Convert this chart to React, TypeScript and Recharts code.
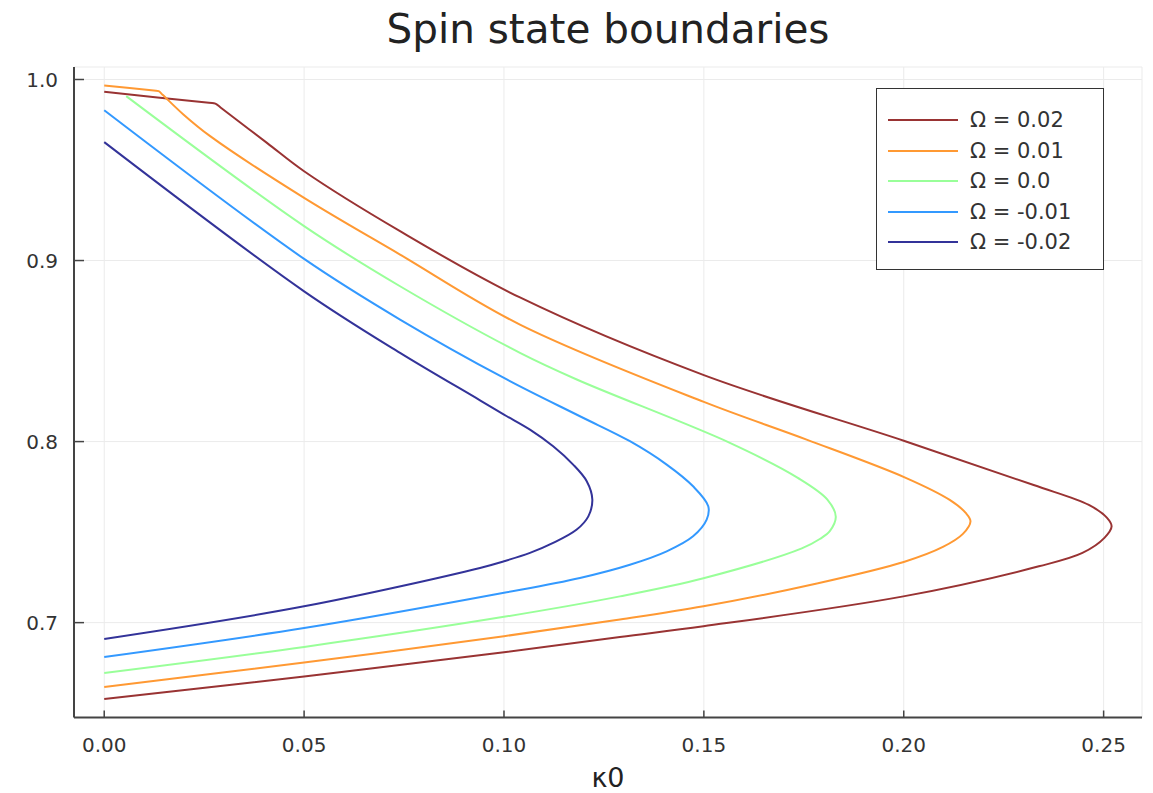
import { CartesianGrid, Legend, Line, LineChart, XAxis, YAxis } from "recharts";

// each curve runs from its top end, round the nose, back to κ0 = 0 at the bottom
const curveP02: [number, number][] = [
  [0, 0.9932], [0.0262, 0.9871], [0.0278, 0.9867], [0.0291, 0.9845], [0.0407, 0.965],
  [0.05, 0.9493], [0.074, 0.9162], [0.104, 0.8796], [0.15, 0.8367], [0.2, 0.8005],
  [0.2325, 0.776], [0.2463, 0.765], [0.2508, 0.758], [0.252, 0.7532], [0.2502, 0.7468],
  [0.2447, 0.7385], [0.2338, 0.7311], [0.1999, 0.7145], [0.1499, 0.698], [0.129, 0.6921],
  [0.1, 0.6836], [0.05, 0.6703], [0, 0.6578],
];
const curveP01: [number, number][] = [
  [0, 0.9967], [0.0124, 0.9939], [0.0136, 0.9936], [0.0146, 0.9916], [0.0198, 0.9807],
  [0.0265, 0.9687], [0.05, 0.9346], [0.074, 0.9033], [0.104, 0.8646], [0.15, 0.8219],
  [0.1757, 0.8011], [0.2005, 0.78], [0.2115, 0.7678], [0.2155, 0.7606], [0.2167, 0.756],
  [0.2148, 0.749], [0.2098, 0.7418], [0.2, 0.7335], [0.178, 0.7215], [0.1499, 0.709],
  [0.129, 0.7017], [0.1, 0.6925], [0.05, 0.678], [0, 0.6645],
];
const curve00: [number, number][] = [
  [0.0055, 0.9908], [0.05, 0.919], [0.074, 0.8858], [0.104, 0.849], [0.1182, 0.8343],
  [0.1565, 0.7993], [0.1735, 0.78], [0.1809, 0.768], [0.183, 0.7585], [0.1815, 0.7505],
  [0.179, 0.7462], [0.1745, 0.741], [0.1499, 0.7245], [0.129, 0.7145], [0.1, 0.7032],
  [0.05, 0.6866], [0, 0.6722],
];
const curveM01: [number, number][] = [
  [0, 0.983], [0.05, 0.9009], [0.074, 0.8674], [0.1007, 0.8343], [0.119, 0.814],
  [0.1315, 0.8002], [0.1407, 0.7873], [0.1473, 0.7753], [0.1511, 0.7643], [0.1507, 0.7569],
  [0.1473, 0.7477], [0.1407, 0.7394], [0.1315, 0.732], [0.119, 0.7247], [0.1, 0.7165],
  [0.05, 0.697], [0, 0.681],
];
const curveM02: [number, number][] = [
  [0, 0.9654], [0.05, 0.883], [0.074, 0.849], [0.094, 0.8228], [0.1, 0.8149],
  [0.1065, 0.8066], [0.1123, 0.7974], [0.1173, 0.7873], [0.1207, 0.7781], [0.1221, 0.768],
  [0.1211, 0.7587], [0.1182, 0.7514], [0.1123, 0.744], [0.1065, 0.7385], [0.1, 0.7339],
  [0.094, 0.7302], [0.05, 0.709], [0, 0.691],
];

const omegaLabels = ["Ω = 0.02", "Ω = 0.01", "Ω = 0.0", "Ω = -0.01", "Ω = -0.02"];
const curves = [curveP02, curveP01, curve00, curveM01, curveM02];
const colors = ["#993333", "#ff9933", "#99ff99", "#3399ff", "#333399"];

const xTicks = [0, 0.05, 0.1, 0.15, 0.2, 0.25];
const yTicks = [0.7, 0.8, 0.9, 1.0];

const font = "'DejaVu Sans', sans-serif";

// centripetal catmull-rom, so the curves pass through the read points but bend smoothly
function catmullRom(ctx: any) {
  const alpha = 0.5;
  let x0 = NaN, y0 = NaN, x1 = NaN, y1 = NaN, x2 = NaN, y2 = NaN;
  let l01a = 0, l12a = 0, l23a = 0, l01b = 0, l12b = 0, l23b = 0, n = 0;
  let inLine = NaN;

  const bez = (x: number, y: number) => {
    let cx1 = x1, cy1 = y1, cx2 = x2, cy2 = y2;
    if (l01a > 1e-12) {
      const a = 2 * l01b + 3 * l01a * l12a + l12b;
      const m = 3 * l01a * (l01a + l12a);
      cx1 = (x1 * a - x0 * l12b + x2 * l01b) / m;
      cy1 = (y1 * a - y0 * l12b + y2 * l01b) / m;
    }
    if (l23a > 1e-12) {
      const b = 2 * l23b + 3 * l23a * l12a + l12b;
      const m = 3 * l23a * (l23a + l12a);
      cx2 = (x2 * b + x1 * l23b - x * l12b) / m;
      cy2 = (y2 * b + y1 * l23b - y * l12b) / m;
    }
    ctx.bezierCurveTo(cx1, cy1, cx2, cy2, x2, y2);
  };

  const curve = {
    areaStart() { inLine = 0; },
    areaEnd() { inLine = NaN; },
    lineStart() {
      x0 = x1 = x2 = y0 = y1 = y2 = NaN;
      l01a = l12a = l23a = l01b = l12b = l23b = n = 0;
    },
    lineEnd() {
      if (n === 2) ctx.lineTo(x2, y2);
      else if (n === 3) curve.point(x2, y2);
      if (inLine || (inLine !== 0 && n === 1)) ctx.closePath();
      inLine = 1 - inLine;
    },
    point(x: number, y: number) {
      x = +x; y = +y;
      if (n) {
        const dx = x2 - x, dy = y2 - y;
        l23b = Math.pow(dx * dx + dy * dy, alpha);
        l23a = Math.sqrt(l23b);
      }
      if (n === 0) {
        n = 1;
        if (inLine) ctx.lineTo(x, y); else ctx.moveTo(x, y);
      } else if (n === 1) {
        n = 2;
      } else {
        n = 3;
        bez(x, y);
      }
      l01a = l12a; l12a = l23a;
      l01b = l12b; l12b = l23b;
      x0 = x1; x1 = x2; x2 = x;
      y0 = y1; y1 = y2; y2 = y;
    },
  };
  return curve;
}

function LegendBox() {
  return (
    <div
      style={{
        width: 228,
        height: 182,
        boxSizing: "border-box",
        border: "1.5px solid #333",
        background: "#fff",
        padding: "16px 0 0 11px",
        fontFamily: font,
        fontSize: 21,
        color: "#333",
      }}
    >
      {omegaLabels.map((label, i) => (
        <div key={label} style={{ display: "flex", alignItems: "center", height: 30.5 }}>
          <div style={{ width: 70, height: 2, background: colors[i], marginRight: 12 }} />
          <span>{label}</span>
        </div>
      ))}
    </div>
  );
}

export default function App() {
  return (
    <div style={{ position: "absolute", left: 0, top: 0, width: 1153, height: 793, background: "#fff" }}>
      <div
        style={{
          position: "absolute",
          left: 0,
          width: 1216,
          top: 5,
          textAlign: "center",
          fontFamily: font,
          fontSize: 40.5,
          color: "#222",
        }}
      >
        Spin state boundaries
      </div>
      <LineChart width={1153} height={793} margin={{ top: 67, right: 11, left: 0, bottom: 0 }}>
        <CartesianGrid stroke="#ebebeb" strokeWidth={1} />
        <XAxis
          type="number"
          dataKey="x"
          domain={[-0.00756, 0.2596]}
          allowDataOverflow
          ticks={xTicks}
          tickFormatter={(v) => Number(v).toFixed(2)}
          height={75.5}
          axisLine={{ stroke: "#444", strokeWidth: 2 }}
          tickLine={{ stroke: "#444", strokeWidth: 1.5 }}
          tickSize={-7}
          tickMargin={27}
          tick={{ fill: "#333", fontSize: 20, fontFamily: font }}
          label={{ value: "κ0", position: "insideBottom", offset: 6, fill: "#222", fontSize: 27, fontFamily: font }}
        />
        <YAxis
          type="number"
          domain={[0.6476, 1.0069]}
          allowDataOverflow
          ticks={yTicks}
          tickFormatter={(v) => Number(v).toFixed(1)}
          width={74}
          axisLine={{ stroke: "#444", strokeWidth: 2 }}
          tickLine={{ stroke: "#444", strokeWidth: 1.5 }}
          tickSize={-10}
          tickMargin={26}
          tick={{ fill: "#333", fontSize: 20, fontFamily: font }}
        />
        <Legend
          layout="vertical"
          align="center"
          verticalAlign="middle"
          wrapperStyle={{ left: 876, top: 88, width: 228 }}
          content={<LegendBox />}
        />
        {curves.map((curve, i) => (
          <Line
            key={omegaLabels[i]}
            name={omegaLabels[i]}
            data={curve.map(([x, y]) => ({ x, y }))}
            dataKey="y"
            type={catmullRom as any}
            stroke={colors[i]}
            strokeWidth={2}
            dot={false}
            activeDot={false}
            isAnimationActive={false}
          />
        ))}
      </LineChart>
    </div>
  );
}
